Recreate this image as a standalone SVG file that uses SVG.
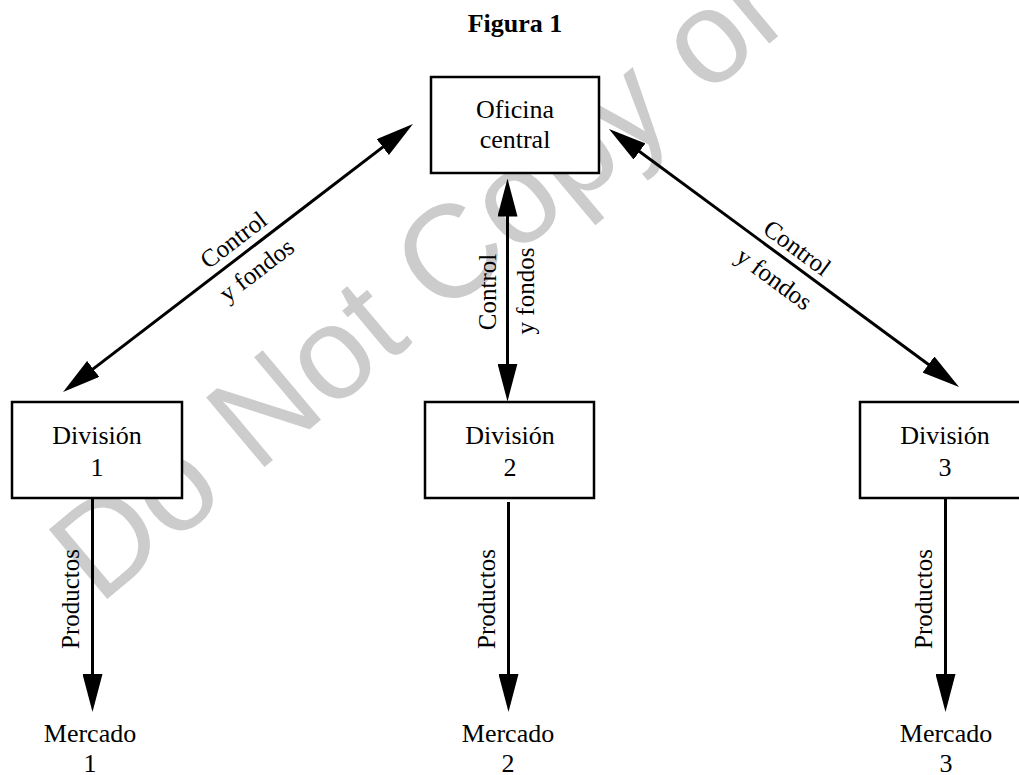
<svg xmlns="http://www.w3.org/2000/svg" width="1019" height="775" viewBox="0 0 1019 775">
<defs>
<style>
.t{font-family:"Liberation Serif","Times New Roman",serif;font-size:26px;fill:#000;text-anchor:middle}
.l{font-size:25px}
.b{font-weight:bold}
.box{fill:#fff;stroke:#000;stroke-width:2.5}
.c{stroke:#000;stroke-width:3;fill:none}
.wm{font-family:"Liberation Sans",Arial,sans-serif;font-size:132px;fill:#cccccc}
</style>
<marker id="ah" viewBox="0 0 38 20" refX="30" refY="10" markerWidth="38" markerHeight="20" markerUnits="userSpaceOnUse" orient="auto-start-reverse">
<path d="M0,0 L38,10 L0,20 Z" fill="#000"/>
</marker>
</defs>
<rect width="1019" height="775" fill="#fff"/>
<text class="wm" transform="translate(99,606) rotate(-40)">Do Not Copy or</text>
<text class="t b" x="515" y="32">Figura 1</text>
<g id="connectors">
<line class="c" x1="69.4" y1="387.1" x2="406.6" y2="128.9" marker-start="url(#ah)" marker-end="url(#ah)"/>
<line class="c" x1="507.5" y1="186.5" x2="507.5" y2="393.5" marker-start="url(#ah)" marker-end="url(#ah)"/>
<line class="c" x1="615.4" y1="133.7" x2="952.6" y2="382.3" marker-start="url(#ah)" marker-end="url(#ah)"/>
<line class="c" x1="92.5" y1="499" x2="92.5" y2="704" marker-end="url(#ah)"/>
<line class="c" x1="508.5" y1="502" x2="508.5" y2="704" marker-end="url(#ah)"/>
<line class="c" x1="945.5" y1="499" x2="945.5" y2="704" marker-end="url(#ah)"/>
<g transform="translate(244,253.6) rotate(-37.4)">
<text class="t l" x="0" y="-9">Control</text>
<text class="t l" x="0" y="29">y fondos</text>
</g>
<text class="t l" transform="translate(496,292) rotate(-90)">Control</text>
<text class="t l" transform="translate(534,291) rotate(-90)">y fondos</text>
<g transform="translate(787.7,260.6) rotate(36.4)">
<text class="t l" x="0" y="-7.5">Control</text>
<text class="t l" x="0" y="31">y fondos</text>
</g>
<text class="t l" transform="translate(79,599) rotate(-90)">Productos</text>
<text class="t l" transform="translate(495,599) rotate(-90)">Productos</text>
<text class="t l" transform="translate(932,599) rotate(-90)">Productos</text>
</g>
<g id="oficina">
<rect class="box" x="431" y="77" width="168" height="96"/>
<text class="t" x="515" y="118">Oficina</text>
<text class="t" x="515" y="148">central</text>
</g>
<g id="division1">
<rect class="box" x="12" y="402" width="170" height="96"/>
<text class="t" x="97" y="444">División</text>
<text class="t" x="97" y="476">1</text>
</g>
<g id="division2">
<rect class="box" x="425" y="402" width="169" height="96"/>
<text class="t" x="510" y="444">División</text>
<text class="t" x="510" y="476">2</text>
</g>
<g id="division3">
<rect class="box" x="860" y="402" width="170" height="96"/>
<text class="t" x="945" y="444">División</text>
<text class="t" x="945" y="476">3</text>
</g>
<g id="mercado1">
<text class="t" x="90" y="742">Mercado</text>
<text class="t" x="90" y="772">1</text>
</g>
<g id="mercado2">
<text class="t" x="508" y="742">Mercado</text>
<text class="t" x="508" y="772">2</text>
</g>
<g id="mercado3">
<text class="t" x="946" y="742">Mercado</text>
<text class="t" x="946" y="772">3</text>
</g>
</svg>
